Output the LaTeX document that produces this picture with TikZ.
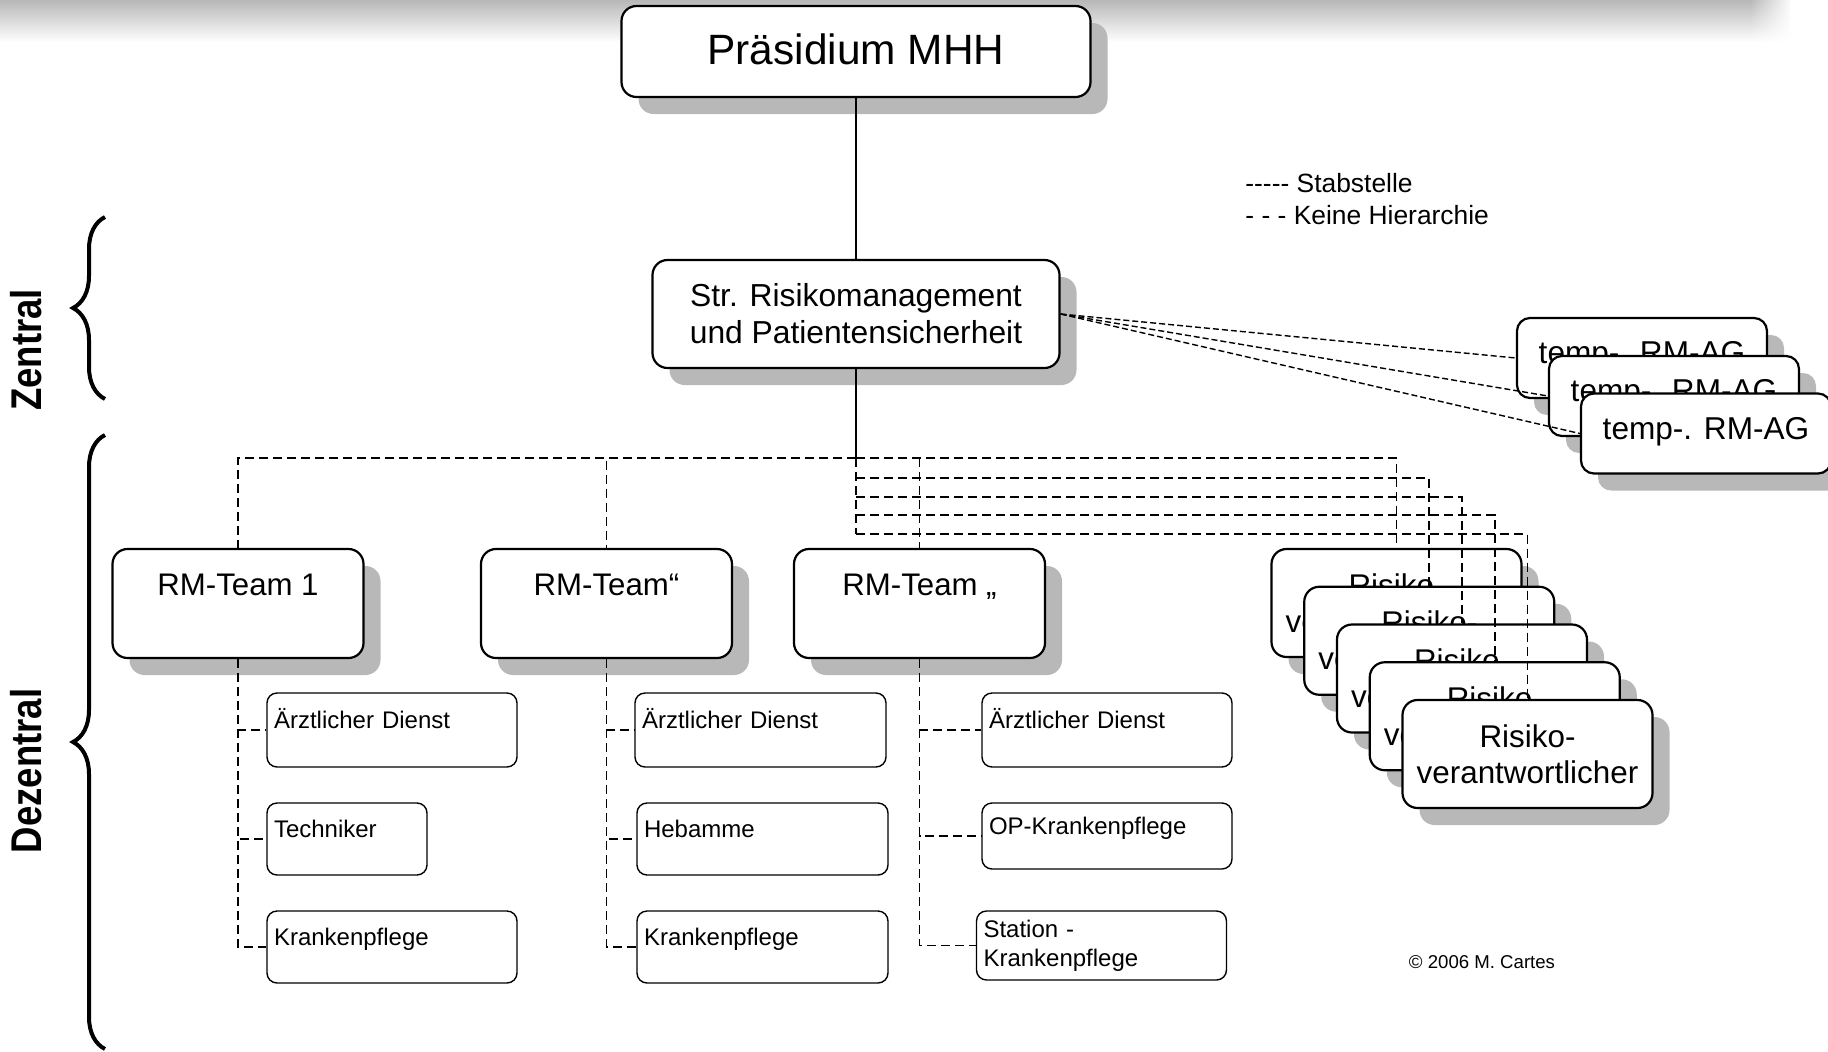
\documentclass[tikz,border=0pt]{standalone}
\usepackage{fontspec}
\usepackage{graphicx}
\setmainfont{Liberation Sans}
\usetikzlibrary{shadows,decorations.pathreplacing,fadings}
\tikzfading[name=fadetoright, left color=transparent!100, right color=transparent!0]
\begin{document}
\begin{tikzpicture}[x=0.5pt,y=-0.5pt,
  shadowed/.style={drop shadow={shadow xshift=8.5pt, shadow yshift=-8.5pt, fill=black!28, opacity=1}},
  mainbox/.style={draw, line width=1.1pt, fill=white, rounded corners=7.5pt, shadowed, align=center, inner sep=0pt},
  subbox/.style={draw, line width=0.7pt, fill=white, rounded corners=5pt, inner xsep=3.5pt, inner ysep=0pt, align=left, font=\fontsize{12}{14.5}\selectfont},
  subone/.style={subbox, text height=5.6pt, text depth=7.1pt},
  hier/.style={line width=0.9pt, dash pattern=on 4.5pt off 2.5pt},
  stab/.style={line width=0.7pt, dash pattern=on 3pt off 1.5pt},
  solidline/.style={line width=0.75pt},
  teambox/.style={mainbox, minimum width=125.5pt, minimum height=54.5pt, text height=8pt, text depth=16pt, font=\fontsize{15.6}{18}\selectfont},
  tempbox/.style={mainbox, rounded corners=6.5pt, minimum width=125pt, minimum height=40pt, text height=11pt, text depth=5.5pt, font=\fontsize{15.8}{18}\selectfont},
  riskbox/.style={mainbox, minimum width=125pt, minimum height=54pt, font=\fontsize{15.7}{18}\selectfont},
  bracestyle/.style={line width=2pt, decorate, decoration={brace, amplitude=16pt}},
  sidelabel/.style={rotate=90, inner sep=0pt, font=\fontsize{21.5}{24}\bfseries\selectfont}
]
\useasboundingbox (0,0) rectangle (1828,1051);
% top shaded band
\shade[top color=black!28, middle color=black!10, bottom color=white] (0,0) rectangle (1790,42);
\fill[white, path fading=fadetoright] (1750,0) rectangle (1792,43);
\fill[white] (1791,0) rectangle (1828,43);

% top nodes
\node[mainbox, minimum width=234.5pt, minimum height=45.5pt, text height=16pt, text depth=3.5pt,
      font=\fontsize{21.2}{24}\selectfont] (pres) at (856,51.5) {Präsidium MHH};
\node[mainbox, minimum width=203.5pt, minimum height=54pt,
      font=\fontsize{15.9}{18.5}\selectfont] (str) at (856,314) {Str. Risikomanagement\\und Patientensicherheit};

\coordinate (hub) at (856,458);
\draw[solidline] (pres.south) -- (str.north);
\draw[solidline] (str.south) -- (hub);

% temporary working groups
\node[tempbox] (tmp1) at (1642,358) {temp-. RM-AG};
\node[tempbox] (tmp2) at (1674,396) {temp-. RM-AG};
\node[tempbox] (tmp3) at (1706,433.5) {temp-. RM-AG};
\draw[stab] (str.east) -- (tmp1.west);
\draw[stab] (str.east) -- (tmp2.west);
\draw[stab] (str.east) -- (tmp3.west);

% teams
\node[teambox] (team1) at (238,603.5) {RM-Team 1};
\node[teambox] (team2) at (606.5,603.5) {RM-Team“};
\node[teambox] (team3) at (919.5,603.5) {RM-Team „};

% risk responsible boxes
\node[riskbox] (risk1) at (1396.5,603) {Risiko-\\verantwortlicher};
\node[riskbox] (risk2) at (1429.25,640.75) {Risiko-\\verantwortlicher};
\node[riskbox] (risk3) at (1462,678.5) {Risiko-\\verantwortlicher};
\node[riskbox] (risk4) at (1494.75,716.25) {Risiko-\\verantwortlicher};
\node[riskbox] (risk5) at (1527.5,754) {Risiko-\\verantwortlicher};

% sub units
\node[subone, text width=118pt, minimum height=37pt] (t1a) at (392,730) {Ärztlicher Dienst};
\node[subone, text width=73pt, minimum height=36pt] (t1b) at (347,839) {Techniker};
\node[subone, text width=118pt, minimum height=36pt] (t1c) at (392,947) {Krankenpflege};
\node[subone, text width=118.5pt, minimum height=37pt] (t2a) at (760.5,730) {Ärztlicher Dienst};
\node[subone, text width=118.5pt, minimum height=36pt] (t2b) at (762.5,839) {Hebamme};
\node[subone, text width=118.5pt, minimum height=36pt] (t2c) at (762.5,947) {Krankenpflege};
\node[subone, text width=118pt, minimum height=37pt] (t3a) at (1107,730) {Ärztlicher Dienst};
\node[subone, text width=118pt, minimum height=33pt] (t3b) at (1107,836) {OP-Krankenpflege};
\node[subbox, text width=118pt, minimum height=34.5pt] (t3c) at (1101.5,945.5) {Station -\\Krankenpflege};

% hierarchy-free dashed connectors
\coordinate (j3) at (team3.north |- hub);
\coordinate (h2) at (856,478);
\coordinate (h3) at (856,497);
\coordinate (h4) at (856,515);
\coordinate (h5) at (856,534);
\draw[hier] (hub) -| (team1.north);
\draw[hier] (hub) -| (team2.north);
\draw[hier] (hub) -| (risk1.north);
\draw[hier] (j3) -- (team3.north);
\draw[hier] (hub) -- (h5);
\draw[hier] (h2) -| (risk2.north);
\draw[hier] (h3) -| (risk3.north);
\draw[hier] (h4) -| (risk4.north);
\draw[hier] (h5) -| (risk5.north);

\draw[hier] (team1.south) |- (t1a.west);
\draw[hier] (team1.south) |- (t1b.west);
\draw[hier] (team1.south) |- (t1c.west);
\draw[hier] (team2.south) |- (t2a.west);
\draw[hier] (team2.south) |- (t2b.west);
\draw[hier] (team2.south) |- (t2c.west);
\draw[hier] (team3.south) |- (t3a.west);
\draw[hier] (team3.south) |- (t3b.west);
\draw[hier] (team3.south) |- (t3c.west);

% legend and copyright
\node[anchor=west, align=left, inner sep=0pt, font=\fontsize{13.2}{16}\selectfont] (legend) at (1245,199)
  {-\kern0pt-\kern0pt-\kern0pt-\kern0pt- Stabstelle\\- - - Keine Hierarchie};
\node[inner sep=0pt, font=\fontsize{9.3}{11}\selectfont] (copy) at (1482,962) {© 2006 M. Cartes};

% braces and side labels
\draw[bracestyle] (105,399) -- (105,217);
\draw[bracestyle] (105,1049) -- (105,435);
\node[sidelabel] (zlab) at (26,350) {\scalebox{0.85}[1]{Zentral}};
\node[sidelabel] (dlab) at (26,771) {\scalebox{0.85}[1]{Dezentral}};
\end{tikzpicture}
\end{document}
